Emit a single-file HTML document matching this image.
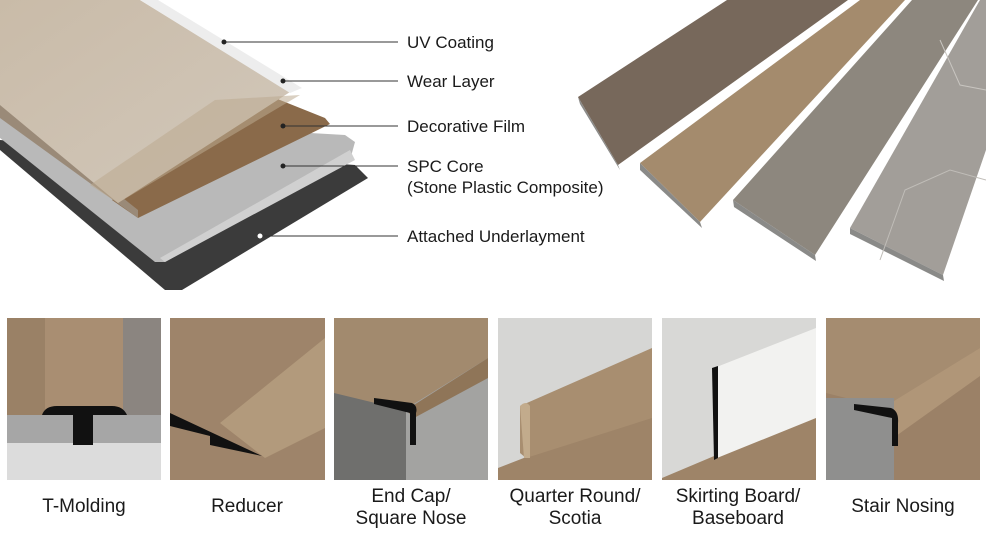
<!DOCTYPE html>
<html><head><meta charset="utf-8"><style>
html,body{margin:0;padding:0;background:#fff;}
body{width:986px;height:538px;overflow:hidden;position:relative;font-family:"Liberation Sans",Arial,sans-serif;}
.l{position:absolute;font-size:17px;color:#1a1a1a;white-space:nowrap;line-height:20px;}
.c{position:absolute;font-size:19px;color:#1a1a1a;text-align:center;width:170px;line-height:22px;}
</style></head><body>
<svg width="986" height="538" style="position:absolute;left:0;top:0">
<defs>
<linearGradient id="lt" x1="0" y1="0" x2="1" y2="1"><stop offset="0" stop-color="#c9bba8"/><stop offset="1" stop-color="#d2c8bb"/></linearGradient>
<linearGradient id="w1" x1="0" y1="0" x2="1" y2="0"><stop offset="0" stop-color="#9a8064"/><stop offset="1" stop-color="#a88f74"/></linearGradient>
</defs>
<!-- underlayment -->
<polygon points="0,140 0,150 165,290 182,290 368,178 355,165" fill="#3b3b3b"/>
<!-- SPC core -->
<polygon points="0,115 0,138 155,262 165,262 350,160 355,142 345,135" fill="#b9b9b9"/>
<polygon points="160,258 350,150 355,160 165,262" fill="#d0d0d0"/>
<!-- brown film end -->
<polygon points="270,96 325,118 330,124 138,218 112,200" fill="#8a6a4a"/>
<!-- left side edge of plank -->
<polygon points="0,100 0,118 138,218 138,210" fill="#9a8a78"/>
<!-- light face -->
<polygon points="0,0 140,0 290,92 118,203 0,105" fill="url(#lt)"/>
<!-- wear layer tint -->
<polygon points="215,100 300,95 118,203 90,185" fill="#bba990" opacity="0.55"/>
<!-- UV strip -->
<polygon points="140,0 158,0 302,88 290,93" fill="#ededed"/>
<!-- leaders -->
<g stroke="#333" stroke-width="1">
<line x1="224" y1="42" x2="398" y2="42"/><line x1="283" y1="81" x2="398" y2="81"/>
<line x1="283" y1="126" x2="398" y2="126"/><line x1="283" y1="166" x2="398" y2="166"/>
<line x1="260" y1="236" x2="398" y2="236"/></g>
<g fill="#222"><circle cx="224" cy="42" r="2.5"/><circle cx="283" cy="81" r="2.5"/><circle cx="283" cy="126" r="2.5"/><circle cx="283" cy="166" r="2.5"/></g>
<circle cx="260" cy="236" r="2.5" fill="#fff"/>
<!-- right planks -->
<polygon points="578,97 727,0 848,0 618,165" fill="#77685b"/>
<polygon points="578,97 618,165 620,170 580,104" fill="#8a8a88"/>
<polygon points="640,163 860,0 905,0 700,222" fill="#a48b6d"/>
<polygon points="640,163 700,222 702,228 640,170" fill="#8a8a88"/>
<polygon points="733,200 912,0 978,0 815,255" fill="#8d877e"/>
<polygon points="733,200 815,255 816,261 734,207" fill="#8a8a88"/>
<polygon points="850,228 980,0 986,0 986,150 943,275" fill="#a29e99"/>
<polygon points="850,228 943,275 944,281 850,234" fill="#8a8a88"/>
<polyline points="940,40 960,85 986,90" stroke="#c8c5c0" fill="none"/>
<polyline points="880,260 905,190 950,170 986,180" stroke="#c0bdb8" fill="none"/>
<!-- tile 1 -->
<g transform="translate(7,318)">
<rect width="154" height="162" fill="#dcdcdc"/>
<rect width="154" height="100" fill="#9a8166"/>
<rect x="110" width="44" height="100" fill="#8b8580"/>
<rect x="38" width="78" height="92" fill="#a98e72"/>
<rect y="97" width="154" height="28" fill="#a6a6a6"/>
<path d="M35,97 Q38,88 50,88 L105,88 Q116,88 120,97 Z" fill="#111"/>
<rect x="66" y="95" width="20" height="32" fill="#111"/>
</g>
<!-- tile 2 -->
<g transform="translate(170,318)">
<rect width="155" height="162" fill="#9e846a"/>
<polygon points="50,105 155,20 155,110 95,140" fill="#b29a7c"/>
<polygon points="0,95 0,108 40,118 40,127 92,138" fill="#111"/>
</g>
<!-- tile 3 -->
<g transform="translate(334,318)">
<rect width="154" height="162" fill="#a3a3a1"/>
<rect y="70" width="72" height="92" fill="#6f6f6d"/>
<polygon points="0,0 154,0 154,40 70,92 0,75" fill="#a28a6e"/>
<polygon points="72,92 154,40 154,60 80,100" fill="#8f7558"/>
<path d="M40,80 L78,85 Q84,88 82,95 L82,127 L76,127 L76,95 L40,86 Z" fill="#111"/>
</g>
<!-- tile 4 -->
<g transform="translate(498,318)">
<rect width="154" height="162" fill="#d6d6d4"/>
<polygon points="0,150 154,90 154,162 0,162" fill="#9e8468"/>
<polygon points="22,88 154,30 154,100 28,140 22,135" fill="#a88e70"/>
<path d="M22,88 Q28,82 32,88 L32,140 L26,140 Z" fill="#c2ab8c"/>
</g>
<!-- tile 5 -->
<g transform="translate(662,318)">
<rect width="154" height="162" fill="#d8d8d6"/>
<polygon points="0,160 154,95 154,162 0,162" fill="#9e8468"/>
<polygon points="52,50 154,10 154,100 55,140" fill="#f2f2f0"/>
<path d="M50,50 L56,48 L56,140 L52,142 Z" fill="#111"/>
</g>
<!-- tile 6 -->
<g transform="translate(826,318)">
<rect width="154" height="162" fill="#9b8167"/>
<polygon points="0,0 154,0 154,30 60,90 0,75" fill="#a58c70"/>
<polygon points="60,88 154,30 154,58 70,118" fill="#b09678"/>
<rect y="80" width="68" height="82" fill="#8f8f8e"/>
<path d="M28,86 L65,90 Q73,93 72,105 L72,128 L66,128 L66,100 L28,92 Z" fill="#111"/>
</g>
</svg>
<div class="l" style="left:407px;top:33px">UV Coating</div>
<div class="l" style="left:407px;top:72px">Wear Layer</div>
<div class="l" style="left:407px;top:117px">Decorative Film</div>
<div class="l" style="left:407px;top:157px">SPC Core</div>
<div class="l" style="left:407px;top:178px">(Stone Plastic Composite)</div>
<div class="l" style="left:407px;top:227px">Attached Underlayment</div>
<div class="c" style="left:-1px;top:496px">T-Molding</div>
<div class="c" style="left:162px;top:496px">Reducer</div>
<div class="c" style="left:326px;top:486px">End Cap/<br>Square Nose</div>
<div class="c" style="left:490px;top:486px">Quarter Round/<br>Scotia</div>
<div class="c" style="left:653px;top:486px">Skirting Board/<br>Baseboard</div>
<div class="c" style="left:818px;top:496px">Stair Nosing</div>
</body></html>
